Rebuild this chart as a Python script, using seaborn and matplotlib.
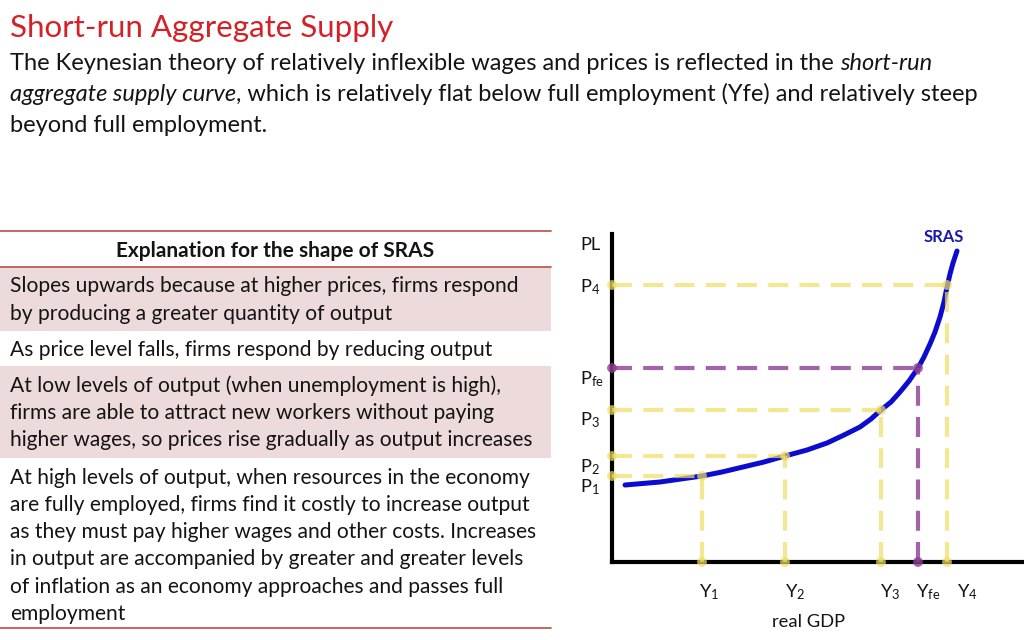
import matplotlib
matplotlib.use("Agg")
import matplotlib.pyplot as plt
from matplotlib.patches import Rectangle
from matplotlib.lines import Line2D
import seaborn as sns
import pandas as pd

# ---------------- data ----------------
title = "Short-run Aggregate Supply"
intro_lines = [
    [("The Keynesian theory of relatively inflexible wages and prices is reflected in the ", "normal"),
     ("short-run", "italic")],
    [("aggregate supply curve", "italic"),
     (", which is relatively flat below full employment (Yfe) and relatively steep", "normal")],
    [("beyond full employment.", "normal")],
]

table_header = "Explanation for the shape of SRAS"
table_rows = [
    ["Slopes upwards because at higher prices, firms respond",
     "by producing a greater quantity of output"],
    ["As price level falls, firms respond by reducing output"],
    ["At low levels of output (when unemployment is high),",
     "firms are able to attract new workers without paying",
     "higher wages, so prices rise gradually as output increases"],
    ["At high levels of output, when resources in the economy",
     "are fully employed, firms find it costly to increase output",
     "as they must pay higher wages and other costs. Increases",
     "in output are accompanied by greater and greater levels",
     "of inflation as an economy approaches and passes full",
     "employment"],
]
row_shaded = [True, False, True, False]

# SRAS curve (real GDP, price level)
sras_gdp = [13, 48, 90, 110, 131, 152, 173, 195, 215, 232, 248, 259, 269, 279, 288,
            297, 306, 312, 318, 323, 328, 332, 335, 338, 341, 343, 345]
sras_pl = [77, 80, 86, 90, 95, 100, 106, 112, 119, 127, 135, 143, 152, 160, 170,
           181, 194, 205, 218, 230, 245, 260, 275, 288, 299, 305, 311]

# marked points on the curve
point_names = ["1", "2", "3", "fe", "4"]
point_gdp = [90, 173, 269, 306, 335]
point_pl = [86, 106, 152, 194, 277]
point_kind = ["normal", "normal", "normal", "fe", "normal"]

gdp_label = "real GDP"
pl_label = "PL"
curve_label = "SRAS"

# ---------------- style ----------------
sns.set_theme(style="white")
FONT = "Lato"
plt.rcParams["font.family"] = [FONT, "DejaVu Sans"]
plt.rcParams["mathtext.fontset"] = "custom"
plt.rcParams["mathtext.rm"] = FONT
plt.rcParams["mathtext.it"] = FONT + ":italic"
plt.rcParams["mathtext.bf"] = FONT + ":bold"

W, H = 1024, 640
fig = plt.figure(figsize=(W / 100, H / 100), dpi=100)
fig.patch.set_facecolor("white")
R = fig.canvas.get_renderer()


def fx(px):
    return px / W


def fy(py):
    return 1 - py / H


def text_w(s, size, **kw):
    t1 = fig.text(0, 0, s + "|", fontsize=size, **kw)
    t2 = fig.text(0, 0, "|", fontsize=size, **kw)
    w = t1.get_window_extent(R).width - t2.get_window_extent(R).width
    t1.remove()
    t2.remove()
    return w


def fit(s_runs, target, **kw):
    w = sum(text_w(s, 10, style=st, **kw) for s, st in s_runs)
    return 10 * target / w


def put_runs(x, y, runs, size, color="#111111"):
    for s, st in runs:
        fig.text(fx(x), fy(y), s, fontsize=size, style=st, color=color,
                 ha="left", va="baseline")
        x += text_w(s, size, style=st)


TEXT = "#141414"
RED = "#d42027"
LINE_RED = "#c05a58"
PINK = "#eddada"

# ---------------- slide text ----------------
tsize = fit([(title, "normal")], 383)
fig.text(fx(10), fy(37), title, fontsize=tsize, color=RED, ha="left", va="baseline")

bsize = fit(intro_lines[0], 925)
for i, runs in enumerate(intro_lines):
    put_runs(10, 70 + 31 * i, runs, bsize, TEXT)

# ---------------- table ----------------
TX0, TX1 = 0, 551
row_bounds = [(267, 331), (331, 366), (366, 458), (458, 628)]
for (top, bot), shade in zip(row_bounds, row_shaded):
    if shade:
        fig.patches.append(Rectangle((fx(TX0), fy(bot)), fx(TX1 - TX0), (bot - top) / H,
                                     transform=fig.transFigure, facecolor=PINK,
                                     edgecolor="none", zorder=0))
for yl in (231, 267, 628):
    fig.lines.append(Line2D([fx(TX0), fx(TX1)], [fy(yl), fy(yl)], transform=fig.transFigure,
                            color=LINE_RED, lw=1.3, zorder=1))

rsize = fit([(table_rows[2][2], "normal")], 525)
hsize = fit([(table_header, "normal")], 319, weight="bold")
fig.text(fx(275), fy(257), table_header, fontsize=hsize, weight="bold", color=TEXT,
         ha="center", va="baseline")
for (top, bot), lines in zip(row_bounds, table_rows):
    for j, line in enumerate(lines):
        fig.text(fx(10), fy(top + 25.5 + 27.3 * j), line, fontsize=rsize, color=TEXT,
                 ha="left", va="baseline")

# ---------------- chart ----------------
AX0, AY0, AX1, AY1 = 612, 562, 1022, 234
ax = fig.add_axes([fx(AX0), fy(AY0), (AX1 - AX0) / W, (AY0 - AY1) / H])
ax.set_xlim(0, AX1 - AX0)
ax.set_ylim(0, AY0 - AY1)
ax.set_facecolor("none")
sns.despine(ax=ax)
for side in ("left", "bottom"):
    ax.spines[side].set_linewidth(3.0)
    ax.spines[side].set_color("black")
    ax.spines[side].set_capstyle("projecting")
ax.set_xticks([])
ax.set_yticks([])

curve_df = pd.DataFrame({"real GDP": sras_gdp, "PL": sras_pl})
sns.lineplot(data=curve_df, x="real GDP", y="PL", sort=False, color="#0c0cd0",
             lw=3.6, ax=ax, zorder=3, solid_joinstyle="round", solid_capstyle="round")
ax.set_xlabel("")
ax.set_ylabel("")

YEL = "#f0de62"
PUR = "#8c3c92"
dash = (0, (4.8, 2.7))
for g, p, kind in zip(point_gdp, point_pl, point_kind):
    c, a = (PUR, 0.8) if kind == "fe" else (YEL, 0.7)
    ax.plot([0, g], [p, p], color=c, lw=3.0, ls=dash, alpha=a, zorder=4,
            solid_capstyle="butt", dash_capstyle="butt", clip_on=False)
    ax.plot([g, g], [0, p], color=c, lw=3.0, ls=dash, alpha=a, zorder=4,
            solid_capstyle="butt", dash_capstyle="butt", clip_on=False)
    pts = pd.DataFrame({"x": [0, g, g], "y": [p, 0, p]})
    sns.scatterplot(data=pts, x="x", y="y", color=c, s=50, alpha=a, edgecolor="none",
                    ax=ax, zorder=5, clip_on=False, legend=False)
ax.set_xlabel("")
ax.set_ylabel("")

# axis annotations (pixel layout)
LSIZE = 13.2
p_label_base = [492, 472, 425, 384, 292]
y_label_left = [699, 785, 880, 916, 957]
for name, base, left in zip(point_names, p_label_base, y_label_left):
    sub = r"\mathrm{" + name + "}"
    fig.text(fx(580), fy(base), "P$_{" + sub + "}$", fontsize=LSIZE, color=TEXT,
             ha="left", va="baseline")
    fig.text(fx(left), fy(597), "Y$_{" + sub + "}$", fontsize=LSIZE, color=TEXT,
             ha="left", va="baseline")
fig.text(fx(580), fy(250), pl_label, fontsize=LSIZE, color=TEXT, ha="left", va="baseline")
fig.text(fx(808), fy(627), gdp_label, fontsize=LSIZE, color=TEXT, ha="center", va="baseline")
fig.text(fx(944), fy(242), curve_label, fontsize=12, weight="bold", color="#1a1aa8",
         ha="center", va="baseline")

fig.savefig("out.png", dpi=100, facecolor="white")
